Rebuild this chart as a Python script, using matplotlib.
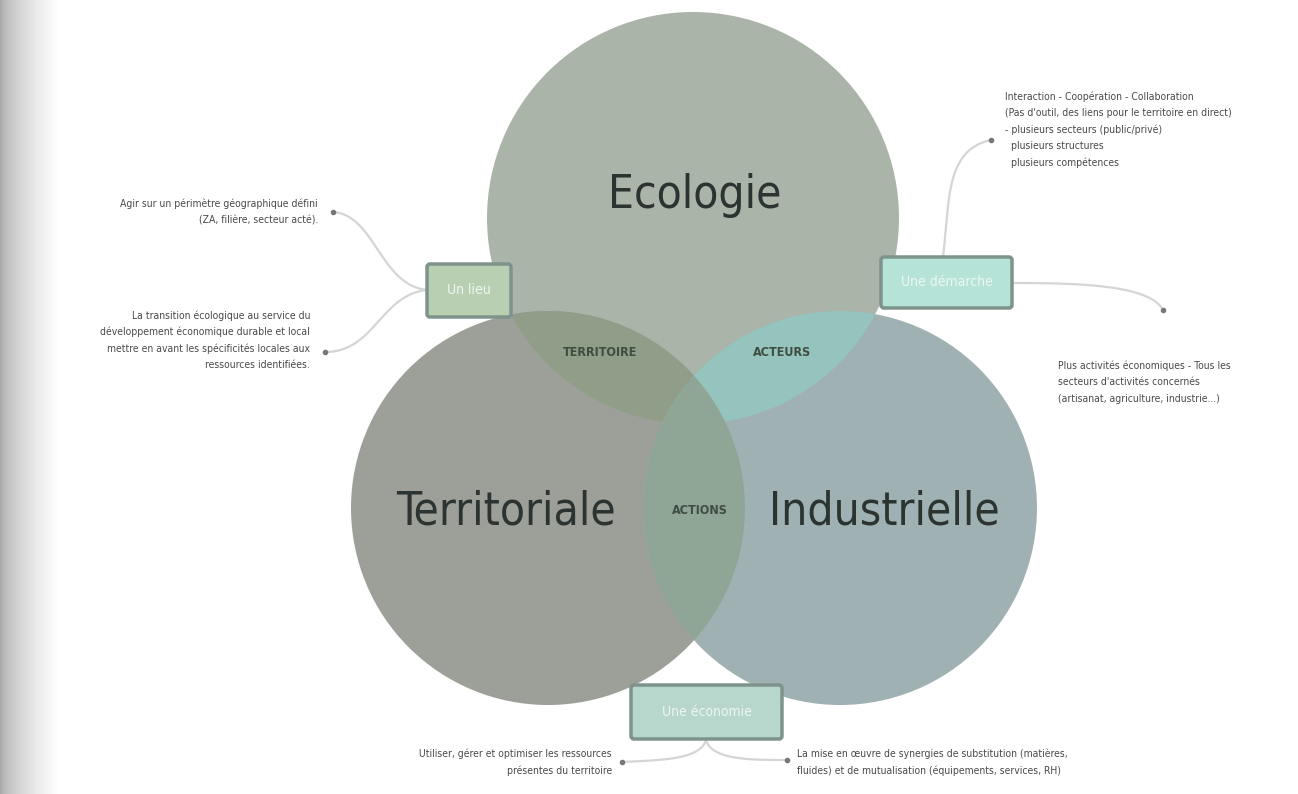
import numpy as np
import matplotlib.pyplot as plt
from matplotlib.patches import Circle, FancyBboxPatch

# textes du schéma
circle_names = ['Ecologie', 'Territoriale', 'Industrielle']
pair_labels = ['TERRITOIRE', 'ACTEURS', 'ACTIONS']
box_labels = ['Un lieu', 'Une démarche', 'Une économie']
notes_left = ['Agir sur un périmètre géographique défini\n(ZA, filière, secteur acté).',
              'La transition écologique au service du\ndéveloppement économique durable et local\nmettre en avant les spécificités locales aux\nressources identifiées.']
notes_top = 'Interaction - Coopération - Collaboration\n(Pas d\'outil, des liens pour le territoire en direct)\n- plusieurs secteurs (public/privé)\n  plusieurs structures\n  plusieurs compétences'
notes_right = 'Plus activités économiques - Tous les\nsecteurs d\'activités concernés\n(artisanat, agriculture, industrie...)'
notes_bottom = ['Utiliser, gérer et optimiser les ressources\nprésentes du territoire',
                'La mise en œuvre de synergies de substitution (matières,\nfluides) et de mutualisation (équipements, services, RH)']

plt.rcParams['font.family'] = ['DejaVu Sans']
plt.rcParams['font.stretch'] = 'condensed'

fig = plt.figure(figsize=(12.98, 7.94), dpi=100, facecolor='w')
ax = fig.add_axes([0, 0, 1, 1])
ax.set_xlim(0, 1298)
ax.set_ylim(794, 0)
ax.axis('off')

# ombre à gauche
grad = np.linspace(0, 1, 60) ** 0.6
ax.imshow(np.tile(grad, (10, 1)), cmap='gray', vmin=-1.9, vmax=1, extent=(0, 60, 794, 0),
          aspect='auto', zorder=0)

# cercles
centres = [(693, 218), (548, 508), (840, 508)]
rayons = [206, 197, 197]
couleurs = ['#abb4a8', '#9da098', '#a0b1b4']
for (cx, cy), r, c in zip(centres, rayons, couleurs):
    ax.add_patch(Circle((cx, cy), r, facecolor=c, edgecolor='none', zorder=1))

# intersections deux à deux
paires = [(0, 1, '#8f9d89'), (0, 2, '#95c3be'), (2, 1, '#8fa697')]
for i, j, c in paires:
    p = Circle(centres[i], rayons[i], facecolor=c, edgecolor='none', zorder=2)
    ax.add_patch(p)
    p.set_clip_path(Circle(centres[j], rayons[j], transform=ax.transData))

# titres des cercles
titre_pos = [(695, 196), (506, 512), (884, 512)]
for (x, y), t in zip(titre_pos, circle_names):
    ax.text(x, y, t, fontsize=33, color='#2c3431', ha='center', va='center', zorder=5)

# étiquettes des intersections
pair_pos = [(600, 353), (782, 353), (700, 510)]
for (x, y), t in zip(pair_pos, pair_labels):
    ax.text(x, y, t, fontsize=9, color='#3f4d41', ha='center', va='center',
            fontweight='bold', zorder=5)

# cadres
box_geo = [(427, 264, 84, 53, '#b9cfb2'), (881, 257, 131, 51, '#b6e3d7'), (631, 685, 151, 54, '#b7d6cc')]
for (x, y, w, h, c), t in zip(box_geo, box_labels):
    b = FancyBboxPatch((x, y), w, h, boxstyle='round,pad=0,rounding_size=3',
                       facecolor=c, edgecolor='#7e938c', lw=2.5, zorder=6)
    ax.add_patch(b)
    ax.text(x + w / 2, y + h / 2, t, fontsize=10, color='#eef7f2', ha='center', va='center', zorder=7)

# liaisons
lc = '#d4d6d4'
t = np.linspace(0, 1, 50)
def courbe(p0, p1, p2, p3):
    pts = [(1 - t) ** 3 * a + 3 * (1 - t) ** 2 * t * b + 3 * (1 - t) * t ** 2 * c + t ** 3 * d
           for a, b, c, d in zip(p0, p1, p2, p3)]
    ax.plot(pts[0], pts[1], color=lc, lw=1.6, zorder=4, solid_capstyle='round')
    ax.plot([p3[0]], [p3[1]], 'o', ms=3, color='#777', zorder=4)

courbe((427, 290), (380, 285), (375, 215), (333, 212))
courbe((427, 290), (380, 295), (375, 352), (325, 352))
courbe((943, 257), (950, 200), (945, 150), (991, 140))
courbe((1012, 283), (1080, 283), (1150, 285), (1163, 310))
courbe((706, 740), (700, 760), (660, 760), (622, 762))
courbe((706, 740), (712, 760), (750, 760), (787, 760))

# notes
nc = '#4a4a4a'
ax.text(318, 212, notes_left[0], fontsize=7.5, color=nc, ha='right', va='center', linespacing=1.7)
ax.text(310, 340, notes_left[1], fontsize=7.5, color=nc, ha='right', va='center', linespacing=1.7)
ax.text(1005, 130, notes_top, fontsize=7.5, color=nc, ha='left', va='center', linespacing=1.75)
ax.text(1058, 382, notes_right, fontsize=7.5, color=nc, ha='left', va='center', linespacing=1.8)
ax.text(612, 762, notes_bottom[0], fontsize=7.5, color=nc, ha='right', va='center', linespacing=1.8)
ax.text(797, 762, notes_bottom[1], fontsize=7.5, color=nc, ha='left', va='center', linespacing=1.8)

fig.savefig('out.png', dpi=100, facecolor='w')
